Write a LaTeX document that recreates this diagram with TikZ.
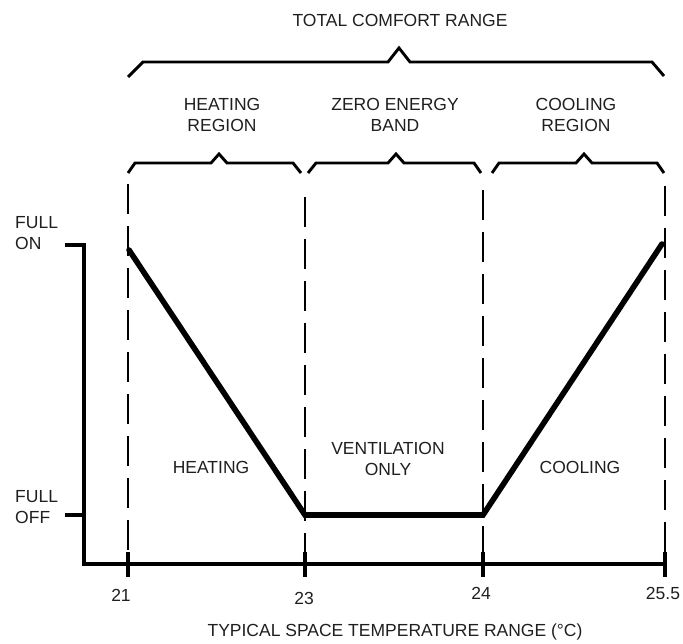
\documentclass[tikz,border=0pt]{standalone}
\usepackage{fontspec}
\setmainfont{Liberation Sans}
\begin{document}
\begin{tikzpicture}[x=1pt,y=-1pt,
  lbl/.style={font=\fontsize{17.5}{20.5}\selectfont, align=center, inner sep=0pt, text=black!88},
  brk/.style={line width=2.9pt, line join=miter},
  axisline/.style={line width=3.1pt},
  guide/.style={line width=2.9pt, dash pattern=on 30pt off 12pt},
  curve/.style={line width=5.6pt, line join=miter, line cap=round}]
\useasboundingbox (0,0) rectangle (683,644);
% text labels
\node[lbl] (total) at (400,20) {TOTAL COMFORT RANGE};
\node[lbl] (hreg) at (222,115) {HEATING\\REGION};
\node[lbl] (zeb) at (395,115) {ZERO ENERGY\\BAND};
\node[lbl] (creg) at (576,115) {COOLING\\REGION};
\node[lbl] (heat) at (211,467) {HEATING};
\node[lbl] (vent) at (388,459) {VENTILATION\\ONLY};
\node[lbl] (cool) at (580,467) {COOLING};
\node[lbl, align=left, anchor=west] (fon) at (15,233) {FULL\\ON};
\node[lbl, align=left, anchor=west] (foff) at (15,507) {FULL\\OFF};
\node[lbl] (t21) at (121,595) {21};
\node[lbl] (t23) at (304,598) {23};
\node[lbl] (t24) at (481,593) {24};
\node[lbl] (t255) at (663,593) {25.5};
\node[lbl] (cap) at (395,632) {TYPICAL SPACE TEMPERATURE RANGE (°C)};
% brackets
\draw[brk] (128,77) -- (143,62) -- (388,62) -- (399,48) -- (410,62) -- (652,62) -- (664,76);
\draw[brk] (128,173) -- (135,163) -- (211,163) -- (219,154) -- (227,163) -- (293,163) -- (301,173);
\draw[brk] (308,173) -- (316,163) -- (388,163) -- (396,154) -- (404,163) -- (474,163) -- (481,173);
\draw[brk] (492,173) -- (499,163) -- (576,163) -- (584,154) -- (592,163) -- (657,163) -- (664,173);
% guide lines
\coordinate (g1t) at (128,184); \coordinate (g1b) at (128,564);
\coordinate (g2t) at (305,197); \coordinate (g2b) at (305,564);
\coordinate (g3t) at (483,190); \coordinate (g3b) at (483,564);
\coordinate (g4t) at (665,186); \coordinate (g4b) at (665,564);
\draw[guide] (g1t) -- (g1b);
\draw[guide] (g2t) -- (g2b);
\draw[guide] (g3t) -- (g3b);
\draw[guide] (g4t) -- (g4b);
% axes
\coordinate (on) at (65,245);
\coordinate (off) at (65,515);
\coordinate (orig) at (84,564);
\coordinate (xend) at (666,564);
\draw[axisline] (on) -- (84,245) -- (orig) -- (xend);
\draw[axisline] (off) -- (84,515);
\foreach \x in {128,305,483,665} \draw[axisline] (\x,552) -- (\x,577);
% response curve
\coordinate (p1) at (129,250);
\coordinate (p2) at (305,515);
\coordinate (p3) at (483,515);
\coordinate (p4) at (662,244);
\draw[curve] (p1) -- (p2) -- (p3) -- (p4);
\end{tikzpicture}
\end{document}
